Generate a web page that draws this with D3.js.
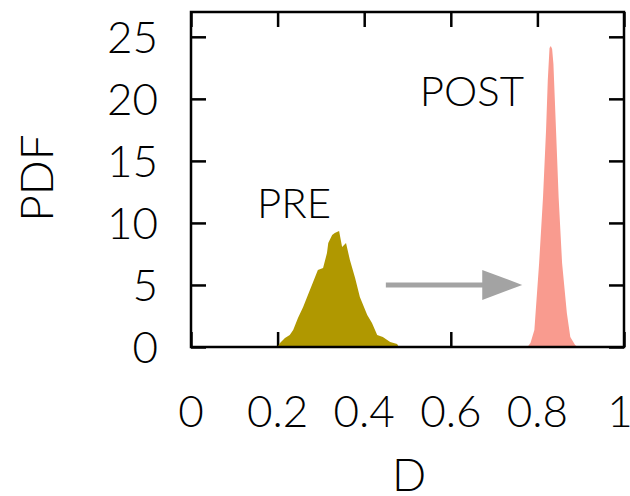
<!DOCTYPE html>
<html>
<head>
    <meta charset="utf-8">
    <script src="https://d3js.org/d3.v7.min.js"></script>
    <style>
        body { margin: 0; background: #fff; }
        text { font-family: Lato, "Open Sans", sans-serif; font-weight: 300; fill: #000; }
    </style>
</head>
<body>
    <svg id="chart" width="630" height="496"></svg>

    <script>
        // PRE distribution (D, PDF)
        const preX = [0.200, 0.205, 0.217, 0.228, 0.236, 0.247, 0.259, 0.270, 0.282, 0.293, 0.305, 0.314,
                      0.317, 0.326, 0.332, 0.342, 0.349, 0.358, 0.367, 0.379, 0.390, 0.407, 0.418,
                      0.430, 0.443, 0.460, 0.476, 0.480];
        const preY = [0, 0.3, 0.73, 0.97, 1.37, 2.34, 3.22, 4.19, 5.24, 6.2, 6.37, 7.57,
                      8.38, 9.02, 9.19, 9.35, 8.06, 8.38, 7.01, 5.56, 4.03, 2.58, 1.93,
                      0.97, 0.81, 0.40, 0.24, 0];

        // POST distribution
        const postX = [0.777, 0.784, 0.793, 0.804, 0.813, 0.820, 0.824, 0.828, 0.831, 0.834,
                       0.837, 0.843, 0.849, 0.857, 0.868, 0.876, 0.887, 0.893];
        const postY = [0, 0.32, 1.37, 6.77, 12.08, 17.48, 21.51, 24.09, 24.25, 24.01,
                       22.8, 17.48, 12.08, 6.77, 2.74, 0.81, 0.16, 0];

        const xTicks = [0, 0.2, 0.4, 0.6, 0.8, 1];
        const xTickLabels = ["0", "0.2", "0.4", "0.6", "0.8", "1"];
        const yTicks = [0, 5, 10, 15, 20, 25];

        // arrow from PRE to POST, drawn at PDF = 5
        const arrowX = [0.45, 0.765];
        const arrowY = 5;

        const svg = d3.select("#chart");
        const plotL = 191, plotR = 624, plotT = 12, plotB = 347;

        const x = d3.scaleLinear().domain([0, 1]).range([plotL, plotR]);
        const y = d3.scaleLinear().domain([0, 27]).range([plotB, plotT]);

        const tickLen = 15;

        // ticks (inside, on all four sides)
        const xAxisB = d3.axisBottom(x).tickValues(xTicks).tickSize(-tickLen).tickFormat("");
        const xAxisT = d3.axisTop(x).tickValues(xTicks).tickSize(-tickLen).tickFormat("");
        const yAxisL = d3.axisLeft(y).tickValues(yTicks).tickSize(-tickLen).tickFormat("");
        const yAxisR = d3.axisRight(y).tickValues(yTicks).tickSize(-tickLen).tickFormat("");

        const axes = [
            svg.append("g").attr("transform", `translate(0,${plotB})`).call(xAxisB),
            svg.append("g").attr("transform", `translate(0,${plotT})`).call(xAxisT),
            svg.append("g").attr("transform", `translate(${plotL},0)`).call(yAxisL),
            svg.append("g").attr("transform", `translate(${plotR},0)`).call(yAxisR)
        ];
        axes.forEach(g => {
            g.select(".domain").remove();
            g.selectAll(".tick line").attr("stroke", "#000").attr("stroke-width", 2.5);
        });

        // filled distributions
        const area = d3.area()
            .x(d => x(d[0]))
            .y0(y(0))
            .y1(d => y(d[1]));

        svg.append("path")
            .datum(preX.map((v, i) => [v, preY[i]]))
            .attr("d", area)
            .attr("fill", "#b09800");

        svg.append("path")
            .datum(postX.map((v, i) => [v, postY[i]]))
            .attr("d", area)
            .attr("fill", "#f99b8f");

        // frame
        svg.append("rect")
            .attr("x", plotL).attr("y", plotT)
            .attr("width", plotR - plotL).attr("height", plotB - plotT)
            .attr("fill", "none")
            .attr("stroke", "#000")
            .attr("stroke-width", 2.5);

        // arrow
        const headLen = 40, headHalf = 15;
        const ay = y(arrowY);
        svg.append("line")
            .attr("x1", x(arrowX[0])).attr("y1", ay)
            .attr("x2", x(arrowX[1]) - headLen + 2).attr("y2", ay)
            .attr("stroke", "#a3a3a3")
            .attr("stroke-width", 5);
        svg.append("path")
            .attr("d", `M${x(arrowX[1])},${ay} L${x(arrowX[1]) - headLen},${ay - headHalf} L${x(arrowX[1]) - headLen},${ay + headHalf} Z`)
            .attr("fill", "#a3a3a3");

        // tick labels
        svg.append("g").selectAll("text")
            .data(xTicks)
            .join("text")
            .attr("x", d => x(d) - (d === 1 ? 4 : 0))
            .attr("y", 427)
            .attr("text-anchor", "middle")
            .attr("font-size", "44px")
            .text((d, i) => xTickLabels[i]);

        svg.append("g").selectAll("text")
            .data(yTicks)
            .join("text")
            .attr("x", 158)
            .attr("y", d => y(d) + 16)
            .attr("text-anchor", "end")
            .attr("font-size", "44px")
            .text(d => d);

        // axis titles
        svg.append("text")
            .attr("x", 409).attr("y", 491)
            .attr("text-anchor", "middle")
            .attr("font-size", "45px")
            .text("D");

        svg.append("text")
            .attr("transform", "translate(53,178) rotate(-90)")
            .attr("text-anchor", "middle")
            .attr("font-size", "46px")
            .text("PDF");

        // series labels
        svg.append("text")
            .attr("x", 294).attr("y", 218)
            .attr("text-anchor", "middle")
            .attr("font-size", "42px")
            .text("PRE");

        svg.append("text")
            .attr("x", 472).attr("y", 106)
            .attr("text-anchor", "middle")
            .attr("font-size", "42px")
            .text("POST");
    </script>
</body>
</html>
